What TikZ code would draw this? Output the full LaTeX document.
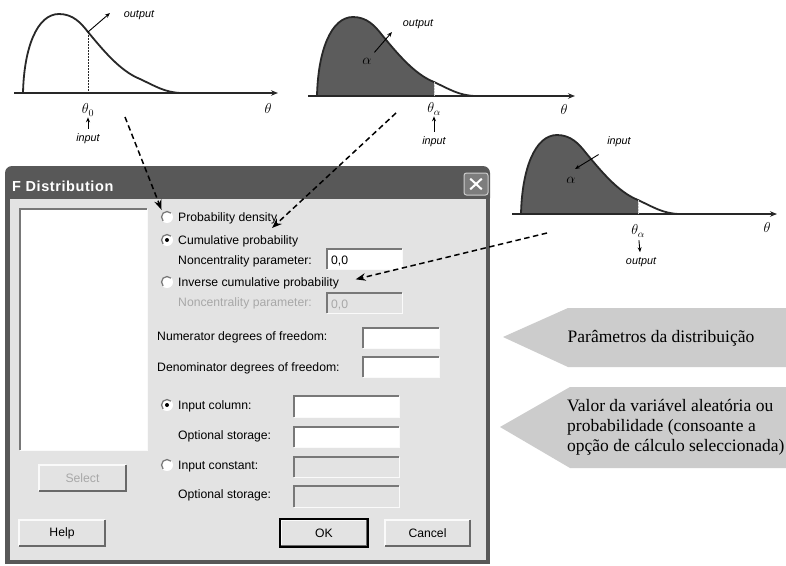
\documentclass[tikz,border=0pt]{standalone}
\usepackage{fontspec}
\setmainfont{Liberation Sans}
\newfontfamily\tagfont{Liberation Serif}
\usetikzlibrary{arrows.meta,calc}

\definecolor{inkgray}{RGB}{40,40,40}
\definecolor{areagray}{RGB}{92,92,92}
\definecolor{framegray}{RGB}{88,88,88}
\definecolor{panelgray}{RGB}{227,227,227}
\definecolor{edgedark}{RGB}{120,120,120}
\definecolor{edgelight}{RGB}{250,250,250}
\definecolor{btnshade}{RGB}{105,105,105}
\definecolor{greytext}{RGB}{168,168,168}
\definecolor{tagfill}{RGB}{204,204,204}
\definecolor{closefill}{RGB}{125,125,125}
\definecolor{closeedge}{RGB}{205,205,205}

% rising part of the density curve, up to the quantile point (117,-14)
\newcommand\densitytop{(0,0) .. controls (1,-45) and (14,-79) .. (36,-79) .. controls (50,-79) and (58,-70) .. (65,-61) .. controls (80,-43) and (97,-22) .. (117,-14)}
\newcommand\densitytail{.. controls (132,-7) and (142,-0.5) .. (158,0)}

\begin{document}
\begin{tikzpicture}[x=1pt,y=-1pt,
  curve/.style={draw=inkgray, line width=1.8pt, line join=round, line cap=round},
  axisline/.style={draw=inkgray, line width=1.2pt, -{Stealth[length=7pt,width=5.5pt]}},
  dropline/.style={draw=inkgray, line width=0.7pt, dash pattern=on 1.5pt off 1.5pt},
  pointer/.style={draw=black, line width=0.9pt, -{Stealth[length=5pt,width=4pt]}},
  guide/.style={draw=black, line width=1.5pt, dash pattern=on 5.5pt off 3.5pt, -{Stealth[length=10pt,width=7.5pt]}},
  annot/.style={font=\fontsize{10.8}{12}\selectfont\itshape, inner sep=0pt},
  sym/.style={font=\fontsize{14}{15}\selectfont, inner sep=0pt},
  lbl/.style={font=\fontsize{12.2}{14}\selectfont, inner sep=0pt, anchor=base west},
  greyed/.style={text=greytext},
  field/.style={fill=white, inner sep=0pt, outer sep=0pt, anchor=north west},
  offfield/.style={field, fill=panelgray},
  button/.style={fill=panelgray, inner sep=0pt, outer sep=0pt, minimum height=26pt, font=\fontsize{12.2}{14}\selectfont},
  radio/.style={circle, fill=white, inner sep=0pt, minimum size=12pt},
  tag/.style={fill=tagfill},
  tagtext/.style={font=\tagfont\fontsize{17.5}{20}\selectfont, inner sep=0pt},
]
\useasboundingbox (0,0) rectangle (786,565);
\fill[white] (0,0) rectangle (786,565);

% ---------- density value: output at theta_0 ----------
\begin{scope}[shift={(23,93)}]
  \draw[axisline] (-9,0) -- (255,0);
  \draw[dropline] (65,-61) -- (65,0);
  \draw[curve] \densitytop \densitytail;
  \coordinate (c1q) at (65,-61);
\end{scope}
\node[annot] (c1out) at (139,15) {output};
\coordinate (c1tip) at (110,13);
\draw[pointer] (c1q) -- (c1tip);
\node[sym] (c1thetaZ) at (88,110) {$\theta_0$};
\node[annot] (c1in) at (88,139) {input};
\draw[pointer, shorten <=5pt, shorten >=1pt] (c1in) -- (c1thetaZ);
\node[sym] (c1theta) at (268,108) {$\theta$};

% ---------- cumulative probability: output alpha ----------
\begin{scope}[shift={(317,96)}]
  \fill[areagray] \densitytop -- (117,0) -- cycle;
  \draw[axisline] (-9,0) -- (258,0);
  \draw[curve] \densitytop \densitytail;
  \draw[dropline, draw=gray!40] (117,-14) -- (117,0);
\end{scope}
\node[sym] (c2alpha) at (367,61) {$\alpha$};
\node[annot] (c2out) at (418,24) {output};
\coordinate (c2tip) at (392,32);
\draw[pointer, shorten <=7pt] (c2alpha) -- (c2tip);
\node[sym] (c2thetaA) at (434,109) {$\theta_\alpha$};
\node[annot] (c2in) at (434,142) {input};
\draw[pointer, shorten <=5pt, shorten >=1pt] (c2in) -- (c2thetaA);
\node[sym] (c2theta) at (564,109) {$\theta$};

% ---------- inverse cumulative: input alpha ----------
\begin{scope}[shift={(521,214)}]
  \fill[areagray] \densitytop -- (117,0) -- cycle;
  \draw[axisline] (-9,0) -- (256,0);
  \draw[curve] \densitytop \densitytail;
  \draw[dropline, draw=gray!40] (117,-14) -- (117,0);
\end{scope}
\node[annot] (c3in) at (619,142) {input};
\coordinate (c3tip) at (575,169);
\draw[pointer, shorten <=14pt] (c3in) -- (c3tip);
\node[sym] (c3alpha) at (571,180) {$\alpha$};
\node[sym] (c3thetaA) at (638,231) {$\theta_\alpha$};
\node[annot] (c3out) at (641,262) {output};
\draw[pointer, shorten <=3pt, shorten >=5pt] (c3thetaA) -- (c3out);
\node[sym] (c3theta) at (767,227) {$\theta$};

% ---------- dialog window ----------
\fill[framegray, rounded corners=7pt] (5,205) -- (5,166) -- (490,166) -- (490,205) -- cycle;
\fill[framegray] (5,195) rectangle (490,564);
\fill[panelgray] (10,199) rectangle (486,560);
\node[anchor=base west, inner sep=0pt, text=white, font=\bfseries\fontsize{14.5}{16}\selectfont\addfontfeature{LetterSpace=4}] (title) at (12,191) {F Distribution};
\node[draw=closeedge, fill=closefill, line width=1pt, rounded corners=2.5pt, minimum width=24pt, minimum height=22pt, inner sep=0pt] (close) at (476,184) {};
\draw[white, line width=2pt] ($(close.north west)!0.27!(close.south east)$) -- ($(close.north west)!0.73!(close.south east)$);
\draw[white, line width=2pt] ($(close.south west)!0.27!(close.north east)$) -- ($(close.south west)!0.73!(close.north east)$);

% variable list and selection button
\node[field, minimum width=127pt, minimum height=241pt] (list) at (20,209) {};
\node[button, minimum width=87pt, greyed] (bSelect) at (82.5,478) {Select};

% calculation options
\node[radio] (rbDensity) at (167,217) {};
\node[lbl] (lDensity) at (178,221) {Probability density};
\node[radio] (rbCumul) at (167,240) {};
\node[lbl] (lCumul) at (178,244.5) {Cumulative probability};
\node[lbl] (lNonc) at (178,264.5) {Noncentrality parameter:};
\node[field, minimum width=75pt, minimum height=20pt] (fNonc) at (327,249) {};
\node[lbl] (vNonc) at (331,264.5) {0,0};
\node[radio] (rbInverse) at (167,282) {};
\node[lbl] (lInverse) at (178,286.5) {Inverse cumulative probability};
\node[lbl, greyed] (lNoncB) at (178,306.5) {Noncentrality parameter:};
\node[offfield, minimum width=75pt, minimum height=20pt] (fNoncB) at (327,293) {};
\node[lbl, greyed] (vNoncB) at (331,308) {0,0};

% distribution parameters
\node[lbl] (lNum) at (157,340.5) {Numerator degrees of freedom:};
\node[field, minimum width=76pt, minimum height=20pt] (fNum) at (363,328) {};
\node[lbl] (lDen) at (157,371) {Denominator degrees of freedom:};
\node[field, minimum width=76pt, minimum height=20pt] (fDen) at (363,357) {};

% input values
\node[radio] (rbColumn) at (167,405) {};
\node[lbl] (lColumn) at (178,409.5) {Input column:};
\node[field, minimum width=105pt, minimum height=21pt] (fColumn) at (294,396) {};
\node[lbl] (lStoreA) at (178,439.5) {Optional storage:};
\node[field, minimum width=105pt, minimum height=20pt] (fStoreA) at (294,427) {};
\node[radio] (rbConst) at (167,465) {};
\node[lbl] (lConst) at (178,469.5) {Input constant:};
\node[offfield, minimum width=105pt, minimum height=20pt] (fConst) at (294,457) {};
\node[lbl] (lStoreB) at (178,498.5) {Optional storage:};
\node[offfield, minimum width=105pt, minimum height=21pt] (fStoreB) at (294,486) {};

% dialog buttons
\node[button, minimum width=86pt] (bHelp) at (62,533) {Help};
\node[button, minimum width=86pt] (bOK) at (324,533) {OK};
\node[button, minimum width=85pt] (bCancel) at (427.5,533) {Cancel};

% sunken edges of the input fields
\foreach \f in {list,fNonc,fNoncB,fNum,fDen,fColumn,fStoreA,fConst,fStoreB} {
  \draw[edgedark, line width=1.6pt] (\f.south west) -- (\f.north west) -- (\f.north east);
  \draw[edgelight, line width=1pt] (\f.north east) -- (\f.south east) -- (\f.south west);
}
% raised edges of the buttons
\foreach \b in {bSelect,bHelp,bOK,bCancel} {
  \draw[edgelight, line width=1.2pt] (\b.south west) -- (\b.north west) -- (\b.north east);
  \draw[btnshade, line width=1.6pt] (\b.north east) -- (\b.south east) -- (\b.south west);
}
\draw[black, line width=1.2pt] ($(bOK.north west)+(-1,-1)$) rectangle ($(bOK.south east)+(1,1)$);
% radio buttons
\foreach \r in {rbDensity,rbCumul,rbInverse,rbColumn,rbConst} {
  \draw[edgedark, line width=1.3pt] ($(\r.center)+(-45:5.5)$) arc[start angle=-45, end angle=-225, radius=5.5];
}
\fill[black] (rbCumul) circle[radius=2];
\fill[black] (rbColumn) circle[radius=2];

% ---------- guides from the curves to the options ----------
\coordinate (g1s) at (125,117);
\draw[guide, shorten >=3pt] (g1s) -- (rbDensity.north west);
\coordinate (g2s) at (396,113);
\coordinate (g2e) at (272,228);
\draw[guide] (g2s) -- (g2e);
\coordinate (g3s) at (547,233);
\draw[guide, shorten >=17pt] (g3s) -- (lInverse.east);

% ---------- explanatory tags ----------
\fill[tag] (503,337) -- (568,308) -- (786,308) -- (786,367) -- (568,367) -- cycle;
\node[tagtext, anchor=base] (tagParam) at (661,342) {Parâmetros da distribuição};
\fill[tag] (500,427) -- (570,387) -- (786,387) -- (786,468) -- (570,468) -- cycle;
\node[tagtext, anchor=west, align=left] (tagValue) at (567,427) {Valor da variável aleatória ou\\probabilidade (consoante a\\opção de cálculo seleccionada)};
\end{tikzpicture}
\end{document}
